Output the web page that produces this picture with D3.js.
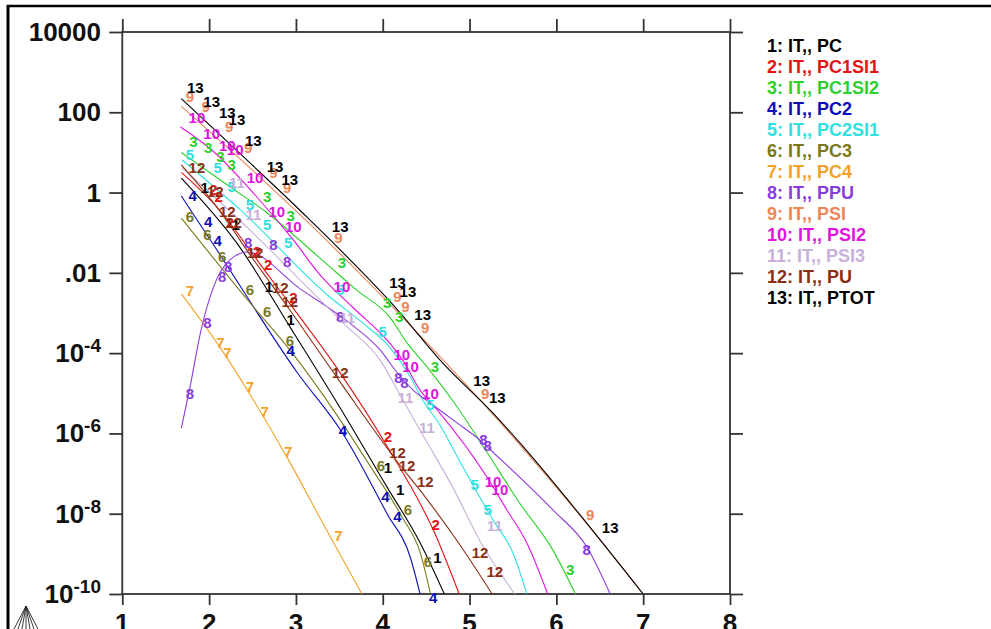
<!DOCTYPE html>
<html><head><meta charset="utf-8">
<script src="https://cdn.jsdelivr.net/npm/d3@7"></script>
<style>
html,body{margin:0;padding:0;background:#fff;overflow:hidden}
svg{display:block}
</style></head><body>
<svg id="chart" width="991" height="629"></svg>
<script>
// ---------- data ----------
const xTicks = [1,2,3,4,5,6,7,8];
const yTicks = [1e4,1e2,1,1e-2,1e-4,1e-6,1e-8,1e-10];
const yTickBase = ["10000","100","1",".01","10","10","10","10"];
const yTickExp  = ["","","","","-4","-6","-8","-10"];
const legendLabels = ["1: IT,, PC","2: IT,, PC1SI1","3: IT,, PC1SI2","4: IT,, PC2","5: IT,, PC2SI1","6: IT,, PC3","7: IT,, PC4","8: IT,, PPU","9: IT,, PSI","10: IT,, PSI2","11: IT,, PSI3","12: IT,, PU","13: IT,, PTOT"];
const markText = ["1","2","3","4","5","6","7","8","9","10","11","12","13"];

const line1 = [[1.68,2.3],[2.32,5.5e-2],[2.94,4.2e-4],[3.51,4.3e-6],[4.05,4.6e-8],[4.43,1.9e-9],[4.71,1e-10]];
const marks1 = [[1.95,1.3],[2.31,0.156],[2.69,4.4e-3],[2.94,6.7e-4],[4.06,1.4e-7],[4.20,3.9e-8],[4.63,7.9e-10]];
const line2 = [[1.68,3.2],[2.07,0.49],[2.68,8.8e-3],[2.97,1.3e-3],[3.47,4.3e-5],[4.06,4.4e-7],[4.61,2.9e-9],[4.88,1e-10]];
const marks2 = [[2.05,1.16],[2.11,0.77],[2.24,0.175],[2.55,3.3e-2],[2.68,1.57e-2],[2.97,2.4e-3],[4.06,8.1e-7],[4.61,5.2e-9]];
const line3 = [[1.68,10],[2.26,1.3],[2.67,0.31],[3.28,2.3e-2],[3.70,3.7e-3],[4.08,7.9e-4],[4.28,1.8e-4],[4.52,4.3e-5],[4.86,4.5e-6],[5.20,3.4e-7],[5.58,1.8e-8],[5.96,1.24e-9],[6.22,1e-10]];
const marks3 = [[1.82,18],[1.99,12.9],[2.13,7.7],[2.26,4.9],[2.67,0.77],[2.94,0.26],[3.53,1.76e-2],[4.05,1.8e-3],[4.19,7.9e-4],[4.60,4.5e-5],[6.16,4.0e-10]];
const line4 = [[1.68,0.82],[2.09,3.7e-2],[3.01,3.4e-5],[3.54,1.0e-6],[4.05,1.0e-8],[4.32,7.9e-10],[4.43,1e-10]];
const marks4 = [[1.81,0.82],[1.99,0.185],[2.10,6.2e-2],[2.94,1.13e-4],[3.54,1.2e-6],[4.03,2.6e-8],[4.17,8.3e-9],[4.58,7.9e-11]];
const line5 = [[1.69,6.5],[2.36,0.37],[3.39,2.5e-3],[3.77,5.6e-4],[4.08,1.4e-4],[4.32,2.5e-5],[4.46,6.8e-6],[4.66,1.6e-6],[4.86,2.6e-7],[5.09,3.3e-8],[5.27,7.0e-9],[5.50,1.05e-9],[5.66,1e-10]];
const marks5 = [[1.78,8.6],[2.10,4.1],[2.26,1.37],[2.47,0.49],[2.67,0.156],[2.91,5.5e-2],[3.51,3.7e-3],[4.00,3.4e-4],[4.55,5.1e-6],[5.06,5.2e-8],[5.21,1.24e-8]];
const line6 = [[1.68,0.23],[2.47,1.8e-3],[2.93,1.2e-4],[3.47,2.9e-6],[3.85,1.6e-7],[4.23,7.8e-9],[4.43,1.1e-9],[4.55,1e-10]];
const marks6 = [[1.78,0.25],[1.98,8.8e-2],[2.15,2.5e-2],[2.47,3.7e-3],[2.67,1.1e-3],[2.93,2.0e-4],[3.98,1.54e-7],[4.29,1.24e-8],[4.52,6.3e-10]];
const line7 = [[1.68,3.0e-3],[2.13,1.35e-4],[2.51,6.8e-6],[2.93,1.9e-7],[3.34,4.4e-9],[3.76,1e-10]];
const marks7 = [[1.78,3.5e-3],[2.13,1.8e-4],[2.21,1.0e-4],[2.47,1.43e-5],[2.64,3.4e-6],[2.91,3.4e-7],[3.49,2.9e-9]];
const line8 = [[1.68,1.36e-6],[1.78,1.43e-5],[1.90,3.2e-4],[2.05,4.4e-3],[2.24,2.1e-2],[2.44,3.3e-2],[3.05,4.0e-3],[3.62,5.6e-4],[3.97,1.2e-4],[4.17,3.2e-5],[4.35,1.2e-5],[4.55,5.7e-6],[4.86,1.8e-6],[5.12,6.8e-7],[5.27,3.4e-7],[5.96,1.24e-8],[6.35,1.5e-9],[6.62,1e-10]];
const marks8 = [[1.78,1.0e-5],[1.98,5.6e-4],[2.15,7.9e-3],[2.22,1.4e-2],[2.45,5.5e-2],[2.74,4.9e-2],[2.90,1.86e-2],[3.51,7.9e-4],[4.18,2.5e-5],[4.25,1.8e-5],[5.16,6.8e-7],[5.21,4.9e-7],[6.35,1.24e-9]];
const line9 = [[1.68,1.4e2],[2.41,5.4],[3.14,0.18],[4.17,1.05e-3],[5.27,3.0e-6],[6.34,6.0e-9],[7.0,1e-10]];
const marks9 = [[1.78,2.4e2],[1.96,1.36e2],[2.23,43],[2.45,12.9],[2.74,3.07],[2.90,1.3],[3.49,7.4e-2],[4.17,2.5e-3],[4.26,1.4e-3],[4.49,4.2e-4],[5.18,1.0e-5],[6.39,9.3e-9]];
const line10 = [[1.67,43],[2.03,11.5],[2.53,0.87],[2.97,6.6e-2],[3.28,8.8e-3],[3.66,1.35e-3],[4.05,2.1e-4],[4.23,6.7e-5],[4.43,1.2e-5],[4.63,3.8e-6],[5.20,8.2e-8],[5.43,1.24e-8],[5.66,1.86e-9],[5.90,1e-10]];
const marks10 = [[1.86,72],[2.03,30],[2.21,15],[2.30,11.5],[2.53,2.3],[2.78,0.33],[2.97,0.14],[3.53,4.4e-3],[4.22,9.0e-5],[4.32,4.5e-5],[4.55,1.0e-5],[5.27,6.2e-8],[5.35,3.9e-8]];
const line11 = [[1.69,4.1],[2.47,0.117],[3.05,6.6e-3],[3.57,5.0e-4],[3.97,6.7e-5],[4.20,9.1e-6],[4.43,1.2e-6],[4.81,4.4e-8],[5.12,2.1e-9],[5.52,1e-10]];
const marks11 = [[2.32,1.73],[2.51,0.28],[3.59,7.5e-4],[4.26,7.6e-6],[4.51,1.36e-6],[5.29,4.9e-9]];
const line12 = [[1.68,4.9],[2.07,0.49],[2.53,1.86e-2],[2.93,1.19e-3],[3.51,1.9e-5],[4.17,1.94e-7],[4.49,2.6e-8],[4.89,1.66e-9],[5.26,1e-10]];
const marks12 = [[1.86,4.1],[2.07,1.03],[2.21,0.33],[2.28,0.175],[2.53,3.1e-2],[2.82,4.2e-3],[2.93,1.9e-3],[3.51,3.2e-5],[4.17,3.25e-7],[4.28,1.6e-7],[4.49,6.2e-8],[5.12,1.05e-9],[5.29,3.5e-10]];
const line13 = [[1.68,2.2e2],[2.41,7.3],[3.14,0.23],[4.17,1.2e-3],[4.69,5.7e-5],[5.27,3.2e-6],[5.58,5.8e-7],[6.34,6.2e-9],[7.0,1e-10]];
const marks13 = [[1.84,4.0e2],[2.03,1.8e2],[2.21,96],[2.32,64],[2.51,20],[2.76,4.3],[2.93,2.1],[3.51,0.14],[4.17,5.6e-3],[4.29,3.3e-3],[4.46,8.9e-4],[5.14,2.1e-5],[5.32,7.6e-6],[6.62,4.4e-9]];

// ---------- styles ----------
const colors = ["#000000","#e21414","#2ed02e","#0c0cb8","#2fe0e0","#7a7a1c","#f3a22a","#8a3ddc","#ee8658","#e014e0","#c8b0da","#8b2e12","#000000"];
const lines = [line1,line2,line3,line4,line5,line6,line7,line8,line9,line10,line11,line12,line13];
const marks = [marks1,marks2,marks3,marks4,marks5,marks6,marks7,marks8,marks9,marks10,marks11,marks12,marks13];

const svg = d3.select("#chart");
const FONT = "'Liberation Sans', Arial, sans-serif";
const L = 122.3, R = 730, T = 32, B = 594;
const x = d3.scaleLinear().domain([1,8]).range([L,R]);
const y = d3.scaleLog().domain([1e-10,1e4]).range([B,T]);

// outer frame
svg.append("line").attr("x1",8).attr("x2",8).attr("y1",5).attr("y2",629).attr("stroke","#000").attr("stroke-width",3);
svg.append("line").attr("x1",7).attr("x2",991).attr("y1",6).attr("y2",6).attr("stroke","#000").attr("stroke-width",2.5);

// axes
const axCol = "#333";
function styleAxis(g){
  g.select(".domain").remove();
  g.selectAll(".tick line").attr("stroke",axCol).attr("stroke-width",1.8);
}
svg.append("g").attr("transform",`translate(0,${B})`)
  .call(d3.axisBottom(x).tickValues(xTicks).tickSize(11).tickFormat("")).call(styleAxis);
svg.append("g").attr("transform",`translate(0,${T})`)
  .call(d3.axisTop(x).tickValues(xTicks).tickSize(13).tickFormat("")).call(styleAxis);
svg.append("g").attr("transform",`translate(${L},0)`)
  .call(d3.axisLeft(y).tickValues(yTicks).tickSize(13).tickFormat("")).call(styleAxis);
svg.append("g").attr("transform",`translate(${R},0)`)
  .call(d3.axisRight(y).tickValues(yTicks).tickSize(13).tickFormat("")).call(styleAxis);
svg.append("rect").attr("x",L).attr("y",T).attr("width",R-L).attr("height",B-T)
  .attr("fill","none").attr("stroke",axCol).attr("stroke-width",1.8);

// x tick labels
svg.append("g").selectAll("text").data(xTicks).join("text")
  .attr("x",d=>x(d)).attr("y",632).attr("text-anchor","middle")
  .attr("font-family",FONT).attr("font-weight","bold").attr("font-size",26).attr("fill","#111")
  .text(d=>d);

// y tick labels
const yl = svg.append("g").selectAll("text").data(yTicks).join("text")
  .attr("x",101).attr("y",d=>y(d)+9).attr("text-anchor","end")
  .attr("font-family",FONT).attr("font-weight","bold").attr("font-size",26).attr("fill","#111");
yl.each(function(d,i){
  const t = d3.select(this);
  t.append("tspan").text(yTickBase[i]);
  if (yTickExp[i]) t.append("tspan").attr("font-size",19).attr("dy",-10).text(yTickExp[i]);
});

// series lines
const lineGen = d3.line().x(d=>x(d[0])).y(d=>y(d[1])).curve(d3.curveMonotoneX);
const gLines = svg.append("g");
lines.forEach((ln,i)=>{
  gLines.append("path").datum(ln).attr("d",lineGen).attr("fill","none")
    .attr("stroke",colors[i]).attr("stroke-width",1.1);
});
// series number markers
const gMarks = svg.append("g").attr("font-family",FONT).attr("font-size",15).attr("font-weight","bold");
marks.forEach((mk,i)=>{
  gMarks.append("g").selectAll("text").data(mk).join("text")
    .attr("x",d=>x(d[0])).attr("y",d=>y(d[1])).attr("dy","0.35em")
    .attr("text-anchor","middle").attr("fill",colors[i]).text(markText[i]);
});

// legend
svg.append("g").selectAll("text").data(legendLabels).join("text")
  .attr("x",767).attr("y",(d,i)=>46+21*i).attr("dy","0.36em")
  .attr("font-family",FONT).attr("font-weight","bold").attr("font-size",18)
  .attr("fill",(d,i)=>colors[i]).text(d=>d);

// small program logo at bottom-left
const logo = svg.append("g").attr("stroke","#222").attr("stroke-width",0.9).attr("fill","none");
[14,18,22,26,30,34,38].forEach(bx=>{
  logo.append("line").attr("x1",26).attr("y1",606).attr("x2",bx).attr("y2",629);
});
</script>
</body></html>
